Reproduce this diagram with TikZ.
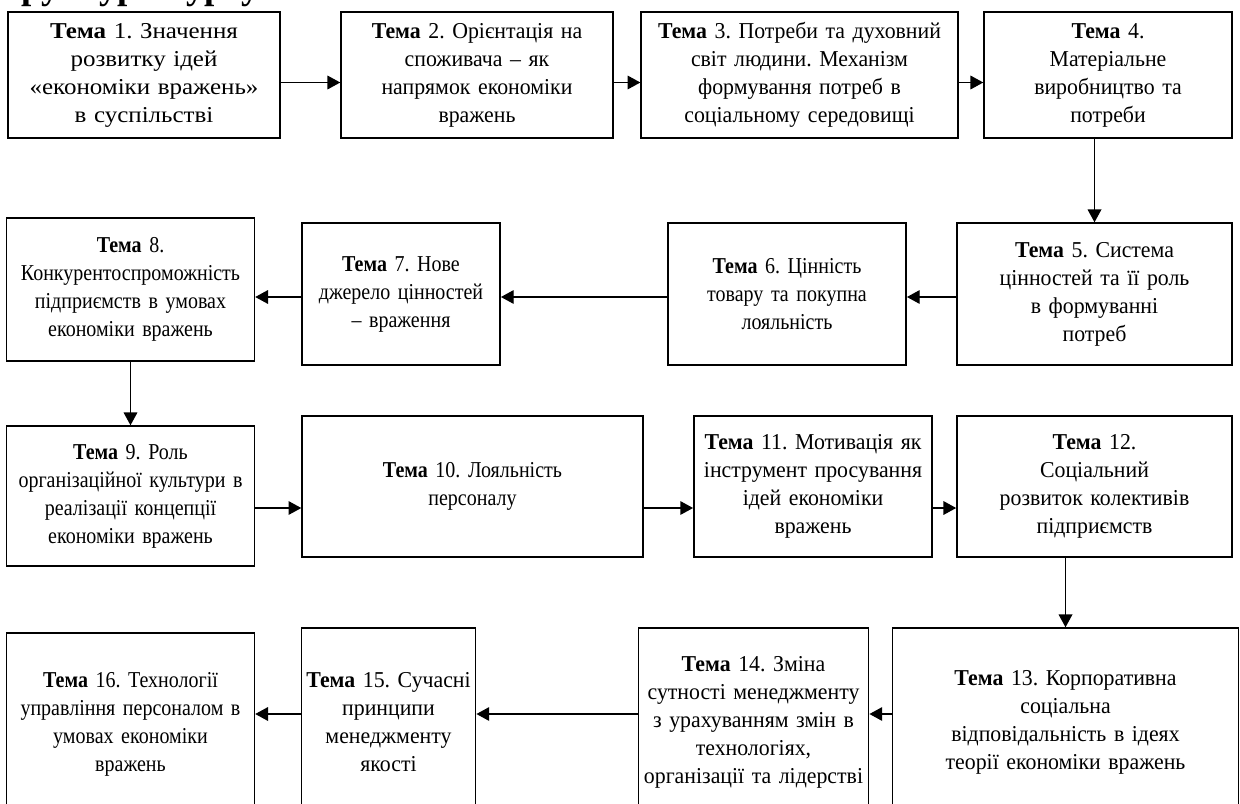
\documentclass[tikz,border=0pt]{standalone}
\usepackage{fontspec}
\setmainfont{Liberation Serif}[FakeStretch=0.96]
\newfontfamily\narrowserif{Liberation Serif}[FakeStretch=0.88]
\newfontfamily\wideserif{Liberation Serif}[FakeStretch=1.1]
\usepackage{tikz}
\usetikzlibrary{arrows.meta, positioning}

\newcommand{\tema}[1]{\textbf{Тема} #1}
\frenchspacing

\begin{document}
\begin{tikzpicture}[
		x=0.625pt, y=-0.625pt,
		topic/.style={
			rectangle,
			draw=black,
			line width=0.9pt,
			inner sep=2pt,
			align=center,
			font=\fontsize{14.2}{17.5}\selectfont
		},
		narrow/.style={font=\narrowserif\fontsize{14.2}{17.5}\selectfont},
		wide/.style={font=\wideserif\fontsize{14.2}{17.5}\selectfont},
		arrow/.style={
			line width=0.9pt,
			-{Triangle[length=8pt, width=8.5pt]},
		}
	]
	\useasboundingbox (0,0) rectangle (1240,803);
	
	% title, cut off by the page edge
	\node[anchor=base east, font=\fontsize{24}{28}\selectfont\bfseries, inner sep=0pt] (title) at (260,-1) {Структура курсу};
	
	% row 1
	\node[topic, wide, minimum width=170pt, minimum height=78.75pt, text width=166pt] (T1) at (144,75)
		{\tema{1}. Значення\\ розвитку ідей\\ «економіки вражень»\\ в суспільстві};
	\node[topic, minimum width=170pt, minimum height=78.75pt, text width=166pt] (T2) at (477,75)
		{\tema{2}. Орієнтація на\\ споживача – як\\ напрямок економіки\\ вражень};
	\node[topic, minimum width=196.9pt, minimum height=78.75pt, text width=194pt] (T3) at (799.5,75)
		{\tema{3}. Потреби та духовний\\ світ людини. Механізм\\ формування потреб в\\ соціальному середовищі};
	\node[topic, minimum width=155pt, minimum height=78.75pt, text width=151pt] (T4) at (1108,75)
		{\tema{4}.\\ Матеріальне\\ виробництво та\\ потреби};
	
	% row 2
	\node[topic, minimum width=171.9pt, minimum height=88.75pt, text width=168pt] (T5) at (1094.5,294)
		{\tema{5}. Система\\ цінностей та її роль\\ в формуванні\\ потреб};
	\node[topic, narrow, minimum width=148.75pt, minimum height=88.75pt, text width=145pt] (T6) at (787,294)
		{\tema{6}. Цінність\\ товару та покупна\\ лояльність};
	\node[topic, narrow, minimum width=123.75pt, minimum height=88.75pt, text width=120pt] (T7) at (401,294)
		{\tema{7}. Нове\\ джерело цінностей\\ – враження};
	\node[topic, narrow, minimum width=154.4pt, minimum height=89.4pt, text width=151pt] (T8) at (130.5,289.5)
		{\tema{8}.\\ Конкурентоспроможність\\ підприємств в умовах\\ економіки вражень};
	
	% row 3
	\node[topic, narrow, minimum width=154.4pt, minimum height=87.5pt, text width=151pt] (T9) at (130.5,496)
		{\tema{9}. Роль\\ організаційної культури в\\ реалізації концепції\\ економіки вражень};
	\node[topic, narrow, minimum width=213.1pt, minimum height=88.1pt, text width=209pt] (T10) at (472.5,486.5)
		{\tema{10}. Лояльність\\ персоналу\\[6pt]};
	\node[topic, minimum width=148.75pt, minimum height=88.1pt, text width=145pt] (T11) at (813,486.5)
		{\tema{11}. Мотивація як\\ інструмент просування\\ ідей економіки\\ вражень};
	\node[topic, minimum width=171.9pt, minimum height=88.1pt, text width=168pt] (T12) at (1094.5,486.5)
		{\tema{12}.\\ Соціальний\\ розвиток колективів\\ підприємств};
	
	% row 4
	\node[topic, minimum width=215.6pt, minimum height=117.5pt, text width=212pt] (T13) at (1065.5,722)
		{\tema{13}. Корпоративна\\ соціальна\\ відповідальність в ідеях\\ теорії економіки вражень};
	\node[topic, minimum width=143.1pt, minimum height=117.5pt, text width=140pt] (T14) at (753.5,722)
		{\tema{14}. Зміна\\ сутності менеджменту\\ з урахуванням змін в\\ технологіях,\\ організації та лідерстві};
	\node[topic, minimum width=108.1pt, minimum height=117.5pt, text width=105pt] (T15) at (388.5,722)
		{\tema{15}. Сучасні\\ принципи\\ менеджменту\\ якості\\[6pt]};
	\node[topic, narrow, minimum width=154.4pt, minimum height=114.4pt, text width=151pt] (T16) at (130.5,724.5)
		{\tema{16}. Технології\\ управління персоналом в\\ умовах економіки\\ вражень\\[6pt]};
	
	% connectors
	\draw[arrow] (T1.east |- 0,82.5) -- (T2.west |- 0,82.5);
	\draw[arrow] (T2.east |- 0,82.5) -- (T3.west |- 0,82.5);
	\draw[arrow] (T3.east |- 0,82.5) -- (T4.west |- 0,82.5);
	\draw[arrow] (T5.north |- T4.south) -- (T5.north);
	\draw[arrow] (T5.west |- 0,297) -- (T6.east |- 0,297);
	\draw[arrow] (T6.west |- 0,297) -- (T7.east |- 0,297);
	\draw[arrow] (T7.west |- 0,297) -- (T8.east |- 0,297);
	\draw[arrow] (T8) -- (T9);
	\draw[arrow] (T9.east |- 0,508) -- (T10.west |- 0,508);
	\draw[arrow] (T10.east |- 0,508) -- (T11.west |- 0,508);
	\draw[arrow] (T11.east |- 0,508) -- (T12.west |- 0,508);
	\draw[arrow] (T13.north |- T12.south) -- (T13.north);
	\draw[arrow] (T13.west |- 0,714) -- (T14.east |- 0,714);
	\draw[arrow] (T14.west |- 0,714) -- (T15.east |- 0,714);
	\draw[arrow] (T15.west |- 0,714) -- (T16.east |- 0,714);
	
\end{tikzpicture}
\end{document}
